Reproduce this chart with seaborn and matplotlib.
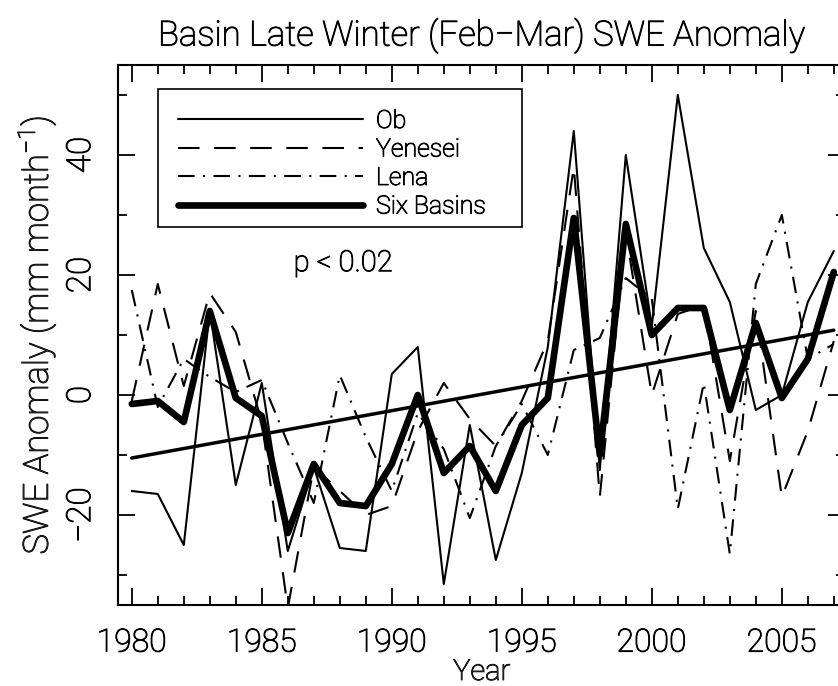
import numpy as np
import pandas as pd
import matplotlib
matplotlib.use("Agg")
import matplotlib.pyplot as plt
import matplotlib.patheffects as pe
from matplotlib.patches import Rectangle
import seaborn as sns
from matplotlib import font_manager
from matplotlib.ticker import MultipleLocator

years = list(range(1980, 2008))
ob = [-16, -16.5, -25, 14, -15, 2, -26, -12, -25.5, -26,
      3.5, 8, -31.5, -5, -27.5, -13, 8, 44, -12.5, 40,
      11.5, 50, 24.5, 15.5, -2.5, 0, 15.5, 24]
yenesei = [-1, 18.5, 1.5, 17, 10.5, -4.5, -35.5, -12, -16, -20,
           -18.5, -6, 2, -4, -8.5, -1, 9, 38, -17, 27,
           0, 13.5, 15, -11, 14, -17, -6, 9]
lena = [17.5, -2, 6, 3, 0.5, 2.5, -8, -18, 3.3, -7,
        -16, -3, -9, -20.5, -8.5, -1.5, -10, 7.5, 9.5, 19.5,
        16, -19, 2, -26.5, 18.5, 30, 6, 8.5]
six_basins = [-1.5, -1, -4.5, 14, -0.5, -3.5, -23, -11.5, -18, -18.5,
              -11.5, 0, -13, -8.5, -16, -5, -0.5, 29.5, -10, 28.5,
              10, 14.5, 14.5, -2.5, 12, -0.5, 6, 20.5]
trend_years = [1980, 2007]
trend_vals = [-10.5, 10.8]
series_names = ["Ob", "Yenesei", "Lena", "Six Basins"]

sns.set_style("ticks")
fam = "Liberation Sans"
weight = "normal"
for cand in ["Roboto", "Lato", "Open Sans", "Noto Sans", "Inter"]:
    if any(f.name == cand and isinstance(f.weight, int) and f.weight <= 300
           for f in font_manager.fontManager.ttflist):
        fam, weight = cand, "light"
        break
plt.rcParams["font.family"] = [fam, "DejaVu Sans"]
plt.rcParams["font.weight"] = weight
plt.rcParams["axes.titleweight"] = weight
plt.rcParams["axes.labelweight"] = weight
plt.rcParams["mathtext.fontset"] = "custom"
plt.rcParams["mathtext.rm"] = fam + ":" + weight
plt.rcParams["mathtext.it"] = fam + ":" + weight
plt.rcParams["mathtext.default"] = "regular"
plt.rcParams["lines.scale_dashes"] = False
plt.rcParams["text.color"] = "black"

stroke = [pe.withStroke(linewidth=0.7, foreground="black")]

df = pd.DataFrame({
    "Year": years * 4,
    "SWE": ob + yenesei + lena + six_basins,
    "basin": sum([[n] * len(years) for n in series_names], []),
})

fig = plt.figure(figsize=(8.38, 6.86), dpi=100)
ax = fig.add_axes([0.14081, 0.11808, 0.86754, 0.78717])

dashes = {"Ob": "", "Yenesei": (15.5, 10.5), "Lena": (12, 6, 1.5, 6), "Six Basins": ""}
sizes = {"Ob": 1.5, "Yenesei": 1.5, "Lena": 1.5, "Six Basins": 4.8}
palette = {n: "black" for n in series_names}

sns.lineplot(data=df, x="Year", y="SWE", hue="basin", style="basin", size="basin",
             hue_order=series_names, style_order=series_names, size_order=series_names,
             palette=palette, dashes=dashes, sizes=sizes, legend=False, ax=ax,
             solid_capstyle="round", dash_capstyle="butt")
sns.lineplot(x=trend_years, y=trend_vals, color="black", lw=2.5, ax=ax, legend=False)

handles = ax.lines[:4]
leg = ax.legend(handles, series_names, loc="upper left", bbox_to_anchor=(0.055, 0.9556),
                borderaxespad=0, frameon=False,
                fontsize=18, handlelength=7.4, handletextpad=0.52, labelspacing=0.18,
                borderpad=0.8)
for t in leg.get_texts():
    t.set_path_effects(stroke)
ax.add_patch(Rectangle((0.055, 0.70), 0.5007, 0.2556, transform=ax.transAxes,
                       facecolor="white", edgecolor="black", lw=1.2, zorder=2.5))

ax.text(0.3095, 0.633, "p < 0.02", transform=ax.transAxes, ha="center", va="center",
        fontsize=21, path_effects=stroke)

ax.set_xlim(1979.47, 2007.43)
ax.set_ylim(-35, 55)
ax.xaxis.set_major_locator(MultipleLocator(5))
ax.xaxis.set_minor_locator(MultipleLocator(1))
ax.yaxis.set_major_locator(MultipleLocator(20))
ax.yaxis.set_minor_locator(MultipleLocator(10))
ax.tick_params(which="both", direction="in", top=True, right=True, width=1.3,
               colors="black", labelcolor="black")
ax.tick_params(which="major", length=12.5)
ax.tick_params(which="minor", length=6.5)
ax.tick_params(axis="x", which="major", labelsize=23, pad=17)
ax.tick_params(axis="y", which="major", labelsize=24, pad=15)
for lab in ax.get_yticklabels():
    lab.set_rotation(90)
    lab.set_va("center")
    lab.set_path_effects(stroke)
for lab in ax.get_xticklabels():
    lab.set_path_effects(stroke)
for sp in ax.spines.values():
    sp.set_linewidth(1.5)
    sp.set_color("black")

ax.set_xlabel("Year", fontsize=21, path_effects=stroke)
ax.xaxis.label.set_va("baseline")
ax.xaxis.set_label_coords(0.5, -0.1389)
ax.set_ylabel("SWE Anomaly (mm month$^{-1}$)", fontsize=25, path_effects=stroke)
ax.yaxis.label.set_va("center")
ax.yaxis.set_label_coords(-0.112, 0.5)
ax.set_title("Basin Late Winter (Feb\u2212Mar) SWE Anomaly", fontsize=25, pad=14,
             path_effects=stroke)

fig.savefig("out.png", dpi=100)
